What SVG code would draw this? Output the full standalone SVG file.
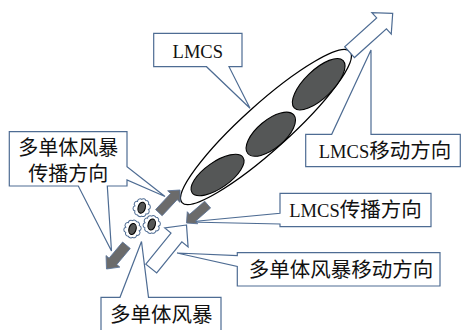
<svg xmlns="http://www.w3.org/2000/svg" xmlns:xlink="http://www.w3.org/1999/xlink" width="461" height="330" viewBox="0 0 461 330">
<defs>
<style>
.co{fill:#ffffff;stroke:#4e6c93;stroke-width:1.2;stroke-linejoin:miter}
.wa{fill:#ffffff;stroke:#4e6c93;stroke-width:1.2;stroke-linejoin:miter}
.ga{fill:#6b6b6b;stroke:#5a7398;stroke-width:0.8}
.core{fill:#555757;stroke:#000;stroke-width:1.1}
.scal{fill:#ffffff;stroke:#4e6c93;stroke-width:1}
.t{font-family:"Liberation Serif","Noto Sans CJK SC",serif;fill:#111;text-anchor:middle}
.zh{font-family:"Noto Sans CJK SC","Liberation Serif",sans-serif;font-size:20.5px}
.zh2{font-family:"Noto Sans CJK SC","Liberation Serif",sans-serif;font-size:20px}
.en{font-family:"Liberation Serif",serif;font-size:18.5px}
</style>
<path id="cell" d="M7,0 A2.7,2.7 0 0 1 5.66,5 A2.7,2.7 0 0 1 2.16,8.08 A2.7,2.7 0 0 1 -2.16,8.08 A2.7,2.7 0 0 1 -5.66,5 A2.7,2.7 0 0 1 -7,0 A2.7,2.7 0 0 1 -5.66,-5 A2.7,2.7 0 0 1 -2.16,-8.08 A2.7,2.7 0 0 1 2.16,-8.08 A2.7,2.7 0 0 1 5.66,-5 A2.7,2.7 0 0 1 7,0 Z"/>
</defs>

<g id="connectors">
<!-- callout pointers are part of the callout outlines below -->
</g>

<g id="node-lmcs">
<path class="co" d="M153.7,33.3 H242 V66.7 H229 L250,108.3 L206.5,66.7 H153.7 Z"/>
<text class="t en" x="197.8" y="58.3">LMCS</text>
</g>

<g id="node-lmcs-move">
<path class="co" d="M305.7,134.3 H331.7 L371,50 V134.3 H460.3 V166.7 H305.7 Z"/>
<text class="t" x="385" y="158"><tspan class="en">LMCS</tspan><tspan class="zh">移动方向</tspan></text>
</g>

<g id="node-mc-prop">
<path class="co" d="M9.3,131.7 H127 V166.7 L165,196.5 L127,180 V186 H107.3 L111.5,251 L78.3,186 H9.3 Z"/>
<text class="t zh2"><tspan x="68.2" y="154.5">多单体风暴</tspan><tspan x="68.2" y="180.5">传播方向</tspan></text>
</g>

<g id="node-lmcs-prop">
<path class="co" d="M280,193.3 H431 V226.7 H280 V224 L188,222 L280,213.3 Z"/>
<text class="t" x="355.5" y="217"><tspan class="en">LMCS</tspan><tspan class="zh">传播方向</tspan></text>
</g>

<g id="node-mc-move">
<path class="co" d="M237.3,252.7 H440 V286 H237.3 V266.5 L177,253 L237.3,255.5 Z"/>
<text class="t zh" x="341" y="277">多单体风暴移动方向</text>
</g>

<g id="node-mc">
<path class="co" d="M101,297.3 H120 L141.5,241.5 L148.5,297.3 H221 V335 H101 Z"/>
<text class="t zh" x="161.3" y="322">多单体风暴</text>
</g>

<g id="lmcs-system">
<ellipse cx="266" cy="127" rx="113" ry="23" transform="rotate(-42 266 127)" fill="#ffffff" stroke="#000" stroke-width="1.3"/>
<ellipse class="core" cx="217.5" cy="175" rx="31" ry="13" transform="rotate(-35 217.5 175)"/>
<ellipse class="core" cx="270.8" cy="134.2" rx="30" ry="14" transform="rotate(-40 270.8 134.2)"/>
<ellipse class="core" cx="318.7" cy="84.2" rx="34" ry="14" transform="rotate(-44 318.7 84.2)"/>
</g>

<g id="arrows">
<polygon class="wa" transform="translate(392.7,13.3) rotate(-42)" points="0,0 -15,-14.5 -15,-7.3 -58,-7.3 -58,7.3 -15,7.3 -15,14.5"/>
<polygon class="wa" transform="translate(186.5,225) rotate(-51)" points="0,0 -16,-15 -16,-7 -56,-7 -56,7 -16,7 -16,15"/>
<polygon class="ga" transform="translate(180,190) rotate(-47)" points="0,0 -9,-8.5 -9,-4.5 -31,-4.5 -31,4.5 -9,4.5 -9,8.5"/>
<polygon class="ga" transform="translate(186.5,223) rotate(139)" points="0,0 -8,-8 -8,-4.5 -28,-4.5 -28,4.5 -8,4.5 -8,8"/>
<polygon class="ga" transform="translate(106.5,269) rotate(130)" points="0,0 -10,-9 -10,-5 -31,-5 -31,5 -10,5 -10,9"/>
</g>

<g id="cells">
<g transform="translate(141.7,207.7) rotate(15)">
<use xlink:href="#cell" class="scal"/>
<ellipse class="core" cx="0" cy="0" rx="3.6" ry="5.6"/>
</g>
<g transform="translate(151.7,224.5) rotate(15)">
<use xlink:href="#cell" class="scal"/>
<ellipse class="core" cx="0" cy="0" rx="3.6" ry="5.6"/>
</g>
<g transform="translate(132.5,229) rotate(15)">
<use xlink:href="#cell" class="scal"/>
<ellipse class="core" cx="0" cy="0" rx="3.6" ry="5.6"/>
</g>
</g>
</svg>
